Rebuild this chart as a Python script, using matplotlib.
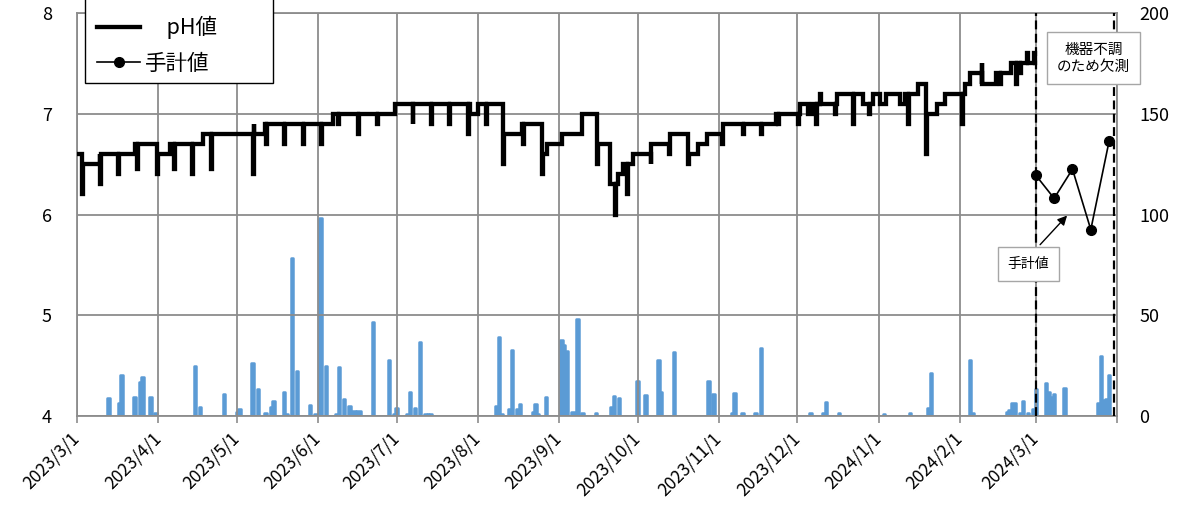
import numpy as np
import pandas as pd
import matplotlib
matplotlib.use('Agg')
import matplotlib.pyplot as plt
from matplotlib.lines import Line2D
from matplotlib.patches import Rectangle

plt.rcParams['font.family'] = ['Noto Sans CJK JP', 'DejaVu Sans']

START = pd.Timestamp('2023-03-01')

# --- pH (continuous record): step levels, day offset from 2023-03-01 ---
ph_step_day = [0, 1.8, 8.8, 22.1, 30.4, 35.5, 48.2, 71.8, 97.8, 121.4, 150, 153.2,
               162.7, 169.7, 177.4, 179.3, 185, 192.6, 198.4, 203.4, 206.6, 208.5,
               212.3, 219.3, 226.3, 233.3, 237.1, 240.3, 246.7, 267, 276, 279,
               280.4, 290, 300, 304, 306.5, 309, 314, 316, 321.1, 324.3, 328.1,
               331.3, 338.9, 341, 345.3, 351, 356.7]
ph_step_level = [6.6, 6.5, 6.6, 6.7, 6.6, 6.7, 6.8, 6.9, 7.0, 7.1, 7.0, 7.1,
                 6.8, 6.9, 6.6, 6.7, 6.8, 7.0, 6.7, 6.3, 6.4, 6.5,
                 6.6, 6.7, 6.8, 6.6, 6.7, 6.8, 6.9, 7.0, 7.1, 7.0,
                 7.1, 7.2, 7.1, 7.2, 7.1, 7.2, 7.1, 7.2, 7.3, 7.0, 7.1,
                 7.2, 7.3, 7.4, 7.3, 7.4, 7.5]
ph_end_day = 365.6
# short excursions of the record
ph_spike_day = [1.8, 8.8, 15.8, 23, 30.4, 37.1, 44, 51.1, 67.3, 67.6, 72, 79.1,
                86.4, 93.1, 99.7, 107.4, 114.4, 128.1, 135.1, 142.1, 149.1, 156.1,
                162.7, 170.3, 177.4, 198.4, 205.3, 210, 219.1, 226.1, 233.3, 246.3,
                254.4, 261.2, 267.7, 275.3, 282.1, 283.6, 289.3, 296.3, 302.2,
                317.3, 324.2, 337.9, 345.3, 352.3, 358.4, 359.9, 362.5, 365.3]
ph_spike_value = [6.2, 6.3, 6.4, 6.45, 6.4, 6.45, 6.4, 6.45, 6.4, 6.9, 6.7, 6.7,
                  6.7, 6.7, 6.9, 6.8, 6.9, 6.9, 6.9, 6.9, 6.8, 6.9,
                  6.5, 6.7, 6.4, 6.5, 6.0, 6.2, 6.5, 6.6, 6.5, 6.7,
                  6.8, 6.8, 6.9, 6.9, 6.9, 7.2, 7.0, 6.9, 7.0,
                  6.9, 6.6, 6.9, 7.5, 7.3, 7.3, 7.4, 7.6, 7.6]

# --- manual measurements ---
manual_dates = ['2024-03-01', '2024-03-08', '2024-03-15', '2024-03-22', '2024-03-29']
manual_ph = [6.39, 6.16, 6.45, 5.85, 6.73]

# --- rainfall (right axis), day offset from 2023-03-01 ---
rain_day = [12, 16, 17, 22, 24, 25, 28, 30, 45, 47, 56, 61, 62, 67, 69, 72, 74, 75,
            79, 80, 82, 84, 89, 91, 93, 95, 99, 100, 102, 104, 105, 106, 107, 108,
            113, 119, 121, 122, 126, 127, 129, 131, 133, 134, 135,
            160, 161, 162, 165, 166, 168, 169, 174, 175, 176, 179, 185, 186, 187,
            189, 190, 191, 193, 198, 204, 205, 207, 214, 217, 222, 223, 228,
            241, 243, 250, 251, 254, 259, 261, 280, 285, 286, 291, 308, 318,
            325, 326, 341, 342, 355, 356, 357, 358, 360, 361, 363, 365, 366,
            370, 371, 372, 373, 377, 390, 391, 392, 393, 394]
rain_mm = [8.8, 6.3, 20.3, 9.6, 17, 19.5, 9.3, 1.3, 25, 4.6, 10.9, 2.1, 3.3, 26.5, 13.2, 1.3, 4.6, 7.4,
           11.8, 1.0, 78.6, 22.3, 5.5, 1.0, 98.1, 25, 1.0, 24.5, 8.3, 5, 2.5, 2.5, 2.5, 2.5,
           46.8, 27.8, 1.0, 3.8, 1.0, 12.1, 3.8, 36.9, 1.2, 1.2, 1.2,
           5, 39, 1.0, 3.3, 32.8, 3.5, 5.8, 2.1, 6, 1.0, 9.6, 37.7, 35, 32.4,
           2, 2, 48, 1.5, 1.5, 4.6, 10.1, 9.1, 17.5, 10.4, 27.8, 12.1, 31.6,
           17.5, 10.9, 1.5, 11.6, 1.5, 1.5, 33.9, 1.5, 1.5, 7.1, 1.5, 1.0, 1.5,
           3.8, 21.2, 27.8, 1.5, 2, 3, 6.3, 6.3, 1.5, 7.6, 1.5, 3.3, 13.2,
           16.5, 12, 9.3, 10.9, 14, 6.3, 29.9, 8, 8.3, 20.3]

month_ticks = pd.date_range('2023-03-01', '2024-04-01', freq='MS')
month_labels = [f'{d.year}/{d.month}/{d.day}' for d in month_ticks[:-1]] + ['']


def day_to_date(days):
    return START + pd.to_timedelta(np.asarray(days, dtype=float), unit='D')


def level_at(t):
    i = np.searchsorted(ph_step_day, t, side='right') - 1
    return ph_step_level[i]


events = [(d, v, 0) for d, v in zip(ph_step_day, ph_step_level)]
for d, v in zip(ph_spike_day, ph_spike_value):
    events.append((d, v, 1))
    events.append((d + 0.35, level_at(d + 0.35), 2))
events.append((ph_end_day, level_at(ph_end_day), 3))
events.sort(key=lambda e: (e[0], e[2]))
ph_t = day_to_date([e[0] for e in events])
ph_v = [e[1] for e in events]

GRID = '#8c8c8c'
BLUE = '#5B9BD5'

fig = plt.figure(figsize=(11.87, 5.12), dpi=100)
ax = fig.add_axes([77 / 1187, 96 / 512, 1040 / 1187, 403 / 512])
ax2 = ax.twinx()

ax.set_xlim(pd.Timestamp('2023-03-01'), pd.Timestamp('2024-04-01'))
ax.set_ylim(4, 8)
ax2.set_ylim(0, 200)
ax.set_yticks([4, 5, 6, 7, 8])
ax2.set_yticks([0, 50, 100, 150, 200])
ax.set_xticks(month_ticks)
ax.set_xticklabels(month_labels, rotation=45, ha='right', va='center',
                   rotation_mode='anchor', fontsize=12.5)
ax.tick_params(axis='x', direction='out', length=5, width=1.2, color=GRID, pad=9)
ax.tick_params(axis='y', length=0, pad=18, labelsize=13)
ax2.tick_params(axis='y', length=0, pad=16, labelsize=13)

ax.grid(True, color=GRID, linewidth=1.3)
ax.set_axisbelow(True)
for s in ax.spines.values():
    s.set_color(GRID)
    s.set_linewidth(1.3)
for s in ax2.spines.values():
    s.set_visible(False)

# rainfall bars
ax2.bar(day_to_date(rain_day), rain_mm, width=0.9, color=BLUE, edgecolor=BLUE,
        linewidth=1.8, joinstyle='round', zorder=2)

# pH record
ax.plot(ph_t, ph_v, drawstyle='steps-post', color='black', linewidth=3.1,
        solid_joinstyle='miter', zorder=3)

# manual measurements
ax.plot(pd.to_datetime(manual_dates), manual_ph, color='black', linewidth=1.2,
        marker='o', markersize=7, zorder=4)

# missing-data period
for d in ['2024-03-01', '2024-03-31']:
    ax.axvline(pd.Timestamp(d), color='black', linestyle=(0, (4, 2)), linewidth=1.6, zorder=4)

ax.text(pd.Timestamp('2024-03-23'), 7.55, '機器不調\nのため欠測', ha='center', va='center',
        fontsize=10.5, linespacing=1.35, zorder=6, clip_on=False,
        bbox=dict(boxstyle='square,pad=0.7', facecolor='white', edgecolor='#a6a6a6', linewidth=1))

ax.annotate('', xy=(pd.Timestamp('2024-03-13 16:00'), 6.01),
            xytext=(pd.Timestamp('2024-03-01 22:00'), 5.68),
            arrowprops=dict(arrowstyle='-|>', color='black', lw=1, mutation_scale=14),
            zorder=6)
ax.text(pd.Timestamp('2024-02-27 05:00'), 5.51, '手計値', ha='center', va='center',
        fontsize=10, zorder=6,
        bbox=dict(boxstyle='square,pad=0.7', facecolor='white', edgecolor='#a6a6a6', linewidth=1))

ax.set_zorder(ax2.get_zorder() + 1)
ax.patch.set_visible(False)

# legend
fig.patches.append(Rectangle((85 / 1187, 1 - 83 / 512), (273 - 85) / 1187, 120 / 512,
                             transform=fig.transFigure, facecolor='white',
                             edgecolor='black', linewidth=1, zorder=10))
handles = [Line2D([], [], color='black', linewidth=3.1),
           Line2D([], [], color='black', linewidth=1.2, marker='o', markersize=7)]
leg = fig.legend(handles, ['\u3000pH値', '手計値'], loc='upper left',
                 bbox_to_anchor=(80 / 1187, 1 + 1 / 512), frameon=False, fontsize=15.5,
                 handlelength=2.0, handletextpad=0.2, labelspacing=0.62, borderpad=0.3)
leg.set_zorder(11)

fig.savefig('out.png', dpi=100)
